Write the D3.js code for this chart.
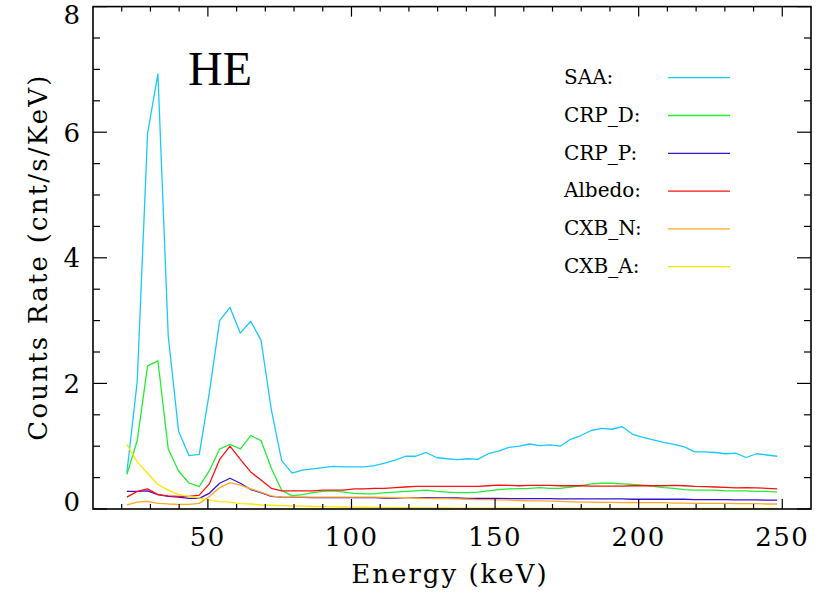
<!DOCTYPE html>
<html>
<head>
<meta charset="utf-8">
<script src="https://cdn.jsdelivr.net/npm/d3@7"></script>
<style>
  body { margin: 0; background: #fff; }
  svg { display: block; }
</style>
</head>
<body>
<div id="chart"></div>
<script>
// energy bin centres (keV)
var energy = [21.8, 25.4, 29.0, 32.6, 36.2, 39.8, 43.4, 47.0, 50.5, 54.1,
  57.7, 61.3, 64.9, 68.5, 72.1, 75.7, 79.3, 82.9, 86.5, 90.1,
  93.7, 97.3, 100.9, 104.5, 108.0, 111.6, 115.2, 118.8, 122.4, 126.0,
  129.6, 133.2, 136.8, 140.4, 144.0, 147.6, 151.2, 154.8, 158.4, 162.0,
  165.5, 169.1, 172.7, 176.3, 179.9, 183.5, 187.1, 190.7, 194.3, 197.9,
  201.5, 205.1, 208.7, 212.3, 215.9, 219.5, 223.0, 226.6, 230.2, 233.8,
  237.4, 241.0, 244.6, 248.2];

var saa = [0.58, 2.03, 5.98, 6.93, 2.75, 1.24, 0.85, 0.87, 1.85, 3.00,
  3.21, 2.80, 2.99, 2.69, 1.58, 0.77, 0.57, 0.62, 0.64, 0.66,
  0.68, 0.67, 0.67, 0.67, 0.69, 0.73, 0.78, 0.84, 0.84, 0.90,
  0.82, 0.80, 0.785, 0.80, 0.79, 0.88, 0.92, 0.98, 1.00, 1.035,
  1.01, 1.02, 1.00, 1.11, 1.17, 1.25, 1.285, 1.27, 1.31, 1.19,
  1.14, 1.10, 1.06, 1.03, 0.99, 0.91, 0.91, 0.90, 0.88, 0.89,
  0.82, 0.88, 0.86, 0.84];

var crpD = [0.55, 1.09, 2.28, 2.36, 0.955, 0.605, 0.414, 0.355, 0.61, 0.955,
  1.03, 0.955, 1.17, 1.09, 0.65, 0.30, 0.21, 0.23, 0.26, 0.28,
  0.29, 0.27, 0.25, 0.24, 0.24, 0.26, 0.27, 0.28, 0.29, 0.30,
  0.28, 0.27, 0.26, 0.26, 0.27, 0.29, 0.31, 0.32, 0.325, 0.33,
  0.34, 0.33, 0.33, 0.35, 0.37, 0.40, 0.41, 0.41, 0.40, 0.39,
  0.38, 0.36, 0.34, 0.33, 0.31, 0.30, 0.30, 0.30, 0.29, 0.29,
  0.29, 0.28, 0.28, 0.27];

var crpP = [0.28, 0.28, 0.29, 0.23, 0.20, 0.19, 0.17, 0.17, 0.25, 0.41,
  0.49, 0.41, 0.31, 0.26, 0.20, 0.19, 0.185, 0.185, 0.18, 0.18,
  0.18, 0.18, 0.18, 0.18, 0.18, 0.175, 0.175, 0.18, 0.18, 0.18,
  0.175, 0.175, 0.175, 0.17, 0.17, 0.17, 0.17, 0.165, 0.165, 0.165,
  0.165, 0.165, 0.16, 0.16, 0.16, 0.16, 0.16, 0.16, 0.16, 0.155,
  0.155, 0.155, 0.155, 0.155, 0.155, 0.15, 0.15, 0.15, 0.15, 0.145,
  0.145, 0.145, 0.14, 0.14];

var albedo = [0.19, 0.28, 0.32, 0.23, 0.21, 0.20, 0.20, 0.22, 0.40, 0.79,
  1.00, 0.79, 0.59, 0.46, 0.33, 0.29, 0.29, 0.29, 0.29, 0.30,
  0.30, 0.30, 0.32, 0.32, 0.33, 0.33, 0.34, 0.35, 0.36, 0.36,
  0.36, 0.36, 0.36, 0.36, 0.36, 0.37, 0.38, 0.375, 0.37, 0.375,
  0.375, 0.375, 0.37, 0.37, 0.37, 0.365, 0.365, 0.365, 0.365, 0.37,
  0.37, 0.37, 0.37, 0.375, 0.37, 0.36, 0.355, 0.35, 0.345, 0.335,
  0.34, 0.335, 0.33, 0.32];

var cxbN = [0.064, 0.11, 0.12, 0.09, 0.08, 0.075, 0.075, 0.09, 0.20, 0.34,
  0.42, 0.38, 0.32, 0.27, 0.21, 0.19, 0.19, 0.19, 0.19, 0.19,
  0.19, 0.19, 0.19, 0.19, 0.19, 0.185, 0.18, 0.18, 0.175, 0.17,
  0.165, 0.165, 0.16, 0.155, 0.15, 0.15, 0.145, 0.14, 0.135, 0.13,
  0.13, 0.125, 0.12, 0.115, 0.11, 0.11, 0.105, 0.105, 0.10, 0.105,
  0.10, 0.10, 0.10, 0.095, 0.095, 0.09, 0.09, 0.09, 0.09, 0.085,
  0.085, 0.085, 0.08, 0.08];

var cxbA = [1.03, 0.75, 0.57, 0.39, 0.30, 0.23, 0.20, 0.175, 0.14, 0.116,
  0.11, 0.085, 0.08, 0.064, 0.06, 0.055, 0.048, 0.045, 0.04, 0.038,
  0.035, 0.032, 0.03, 0.028, 0.025, 0.023, 0.02, 0.02, 0.019, 0.018,
  0.017, 0.016, 0.015, 0.015, 0.014, 0.013, 0.012, 0.012, 0.012, 0.011,
  0.011, 0.011, 0.01, 0.01, 0.01, 0.01, 0.01, 0.01, 0.009, 0.009,
  0.009, 0.009, 0.009, 0.009, 0.008, 0.008, 0.008, 0.008, 0.008, 0.008,
  0.008, 0.008, 0.008, 0.008];

var seriesNames = ["SAA:", "CRP_D:", "CRP_P:", "Albedo:", "CXB_N:", "CXB_A:"];
var seriesValues = [saa, crpD, crpP, albedo, cxbN, cxbA];
var seriesColors = ["#19c8ff", "#22ee33", "#3a10d8", "#ff1111", "#ffa820", "#ffe600"];

var xMajor = [50, 100, 150, 200, 250];
var xMinor = [20, 30, 40, 60, 70, 80, 90, 110, 120, 130, 140, 160, 170, 180, 190, 210, 220, 230, 240];
var yMajor = [0, 2, 4, 6, 8];
var yMinor = [0.5, 1, 1.5, 2.5, 3, 3.5, 4.5, 5, 5.5, 6.5, 7, 7.5];

var W = 819, H = 594;
var plot = {left: 93, right: 811, top: 6.6, bottom: 509};

var svg = d3.select("#chart")
  .append("svg")
    .attr("width", W)
    .attr("height", H);

var x = d3.scaleLinear().domain([10, 260]).range([plot.left, plot.right]);
var y = d3.scaleLinear().domain([0, 8]).range([plot.bottom, plot.top]);

var serif = "DejaVu Serif, serif";

// clip so nothing spills over the frame
svg.append("clipPath").attr("id", "clip")
  .append("rect")
    .attr("x", plot.left).attr("y", plot.top)
    .attr("width", plot.right - plot.left)
    .attr("height", plot.bottom - plot.top);

// the lines
var line = d3.line()
  .x(function(d, i) { return x(energy[i]); })
  .y(function(d) { return y(d); });

svg.append("g")
  .attr("clip-path", "url(#clip)")
  .selectAll("path")
  .data(seriesValues)
  .enter()
  .append("path")
    .attr("d", function(d) { return line(d); })
    .attr("fill", "none")
    .attr("stroke", function(d, i) { return seriesColors[i]; })
    .attr("stroke-width", 1.3)
    .attr("stroke-linejoin", "round");

// frame
svg.append("rect")
  .attr("x", plot.left).attr("y", plot.top)
  .attr("width", plot.right - plot.left)
  .attr("height", plot.bottom - plot.top)
  .attr("fill", "none")
  .attr("stroke", "#000")
  .attr("stroke-width", 1.6);

// ticks on all four sides, pointing inwards
var ticks = svg.append("g").attr("stroke", "#000").attr("stroke-width", 1.2);
function xTicks(vals, len) {
  vals.forEach(function(v) {
    ticks.append("line").attr("x1", x(v)).attr("x2", x(v))
      .attr("y1", plot.bottom).attr("y2", plot.bottom - len);
    ticks.append("line").attr("x1", x(v)).attr("x2", x(v))
      .attr("y1", plot.top).attr("y2", plot.top + len);
  });
}
function yTicks(vals, len) {
  vals.forEach(function(v) {
    ticks.append("line").attr("y1", y(v)).attr("y2", y(v))
      .attr("x1", plot.left).attr("x2", plot.left + len);
    ticks.append("line").attr("y1", y(v)).attr("y2", y(v))
      .attr("x1", plot.right).attr("x2", plot.right - len);
  });
}
xTicks(xMajor, 10);
xTicks(xMinor, 5);
yTicks(yMajor, 14);
yTicks(yMinor, 7);

// tick labels
svg.selectAll("xlab")
  .data(xMajor)
  .enter()
  .append("text")
    .attr("x", function(d) { return x(d); })
    .attr("y", 546)
    .attr("text-anchor", "middle")
    .style("font-family", serif)
    .style("font-size", "26px")
    .style("letter-spacing", "1.5px")
    .text(function(d) { return d; });

svg.selectAll("ylab")
  .data(yMajor)
  .enter()
  .append("text")
    .attr("x", 80)
    .attr("y", function(d) { return Math.min(Math.max(y(d), 15), 502); })
    .attr("dy", "0.36em")
    .attr("text-anchor", "end")
    .style("font-family", serif)
    .style("font-size", "26px")
    .text(function(d) { return d; });

// axis titles
svg.append("text")
  .attr("x", 450).attr("y", 583)
  .attr("text-anchor", "middle")
  .style("font-family", serif)
  .style("font-size", "26px")
  .style("letter-spacing", "2px")
  .text("Energy (keV)");

svg.append("text")
  .attr("transform", "translate(47,257) rotate(-90)")
  .attr("text-anchor", "middle")
  .style("font-family", serif)
  .style("font-size", "26px")
  .style("letter-spacing", "2.2px")
  .text("Counts Rate (cnt/s/KeV)");

// panel name
svg.append("text")
  .attr("x", 188).attr("y", 85)
  .style("font-family", "Liberation Serif, serif")
  .style("font-size", "48px")
  .text("HE");

// legend
var legend = svg.selectAll("legend")
  .data(seriesNames)
  .enter()
  .append("g")
    .attr("transform", function(d, i) { return "translate(0," + (i * 37.8) + ")"; });
legend.append("text")
  .attr("x", 564).attr("y", 84)
  .style("font-family", serif)
  .style("font-size", "20px")
  .text(function(d) { return d; });
legend.append("line")
  .attr("x1", 668).attr("x2", 730)
  .attr("y1", 77.7).attr("y2", 77.7)
  .attr("stroke", function(d, i) { return seriesColors[i]; })
  .attr("stroke-width", 1.3);
</script>
</body>
</html>
